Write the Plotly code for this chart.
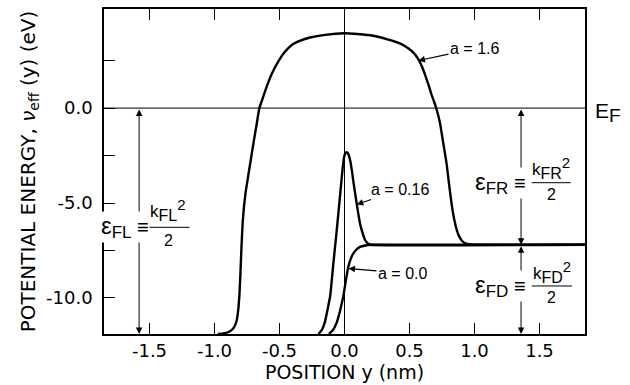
import plotly.graph_objects as go

# Effective potential v_eff(y) in eV versus position y in nm, for three values of a
y_a16 = [-0.975, -0.93, -0.88, -0.85, -0.83, -0.817, -0.808, -0.801, -0.793, -0.783,
         -0.772, -0.76, -0.739, -0.718, -0.698, -0.677, -0.655, -0.63, -0.60, -0.56,
         -0.51, -0.46, -0.41, -0.34, -0.265, -0.15, 0.0, 0.10, 0.22, 0.33, 0.43, 0.49,
         0.53, 0.565, 0.595, 0.62, 0.645, 0.67, 0.69, 0.71, 0.735, 0.76, 0.786, 0.805,
         0.825, 0.845, 0.865, 0.885, 0.905, 0.93, 0.97, 1.05, 1.85]
v_a16 = [-11.9, -11.87, -11.75, -11.55, -11.2, -10.6, -9.8, -8.8, -7.4, -6.0,
         -5.1, -4.4, -3.5, -2.6, -1.75, -0.9, 0.0, 0.5, 1.1, 1.8,
         2.45, 2.95, 3.3, 3.55, 3.72, 3.86, 3.94, 3.9, 3.81, 3.62, 3.4, 3.15,
         2.92, 2.6, 2.2, 1.75, 1.25, 0.7, 0.32, -0.1, -0.8, -1.85, -2.95, -4.05,
         -5.1, -5.9, -6.45, -6.8, -7.0, -7.12, -7.18, -7.2, -7.2]

y_a016 = [-0.20, -0.175, -0.15, -0.13, -0.11, -0.086, -0.065, -0.048, -0.03, -0.014,
          -0.005, 0.004, 0.013, 0.022, 0.031, 0.04, 0.05, 0.06, 0.07, 0.081, 0.094,
          0.107, 0.12, 0.14, 0.158, 0.18, 0.2, 1.85]
v_a016 = [-11.9, -11.7, -11.25, -10.6, -9.9, -8.2, -6.8, -5.6, -4.3, -3.15,
          -2.65, -2.42, -2.33, -2.34, -2.45, -2.65, -3.0, -3.45, -3.95, -4.45, -5.05,
          -5.6, -6.1, -6.6, -6.95, -7.13, -7.2, -7.2]

y_a0 = [-0.12, -0.09, -0.06, -0.035, -0.01, 0.01, 0.025, 0.04, 0.06, 0.085, 0.12, 0.16, 0.2, 1.85]
v_a0 = [-11.9, -11.7, -11.3, -10.7, -9.95, -9.1, -8.5, -8.1, -7.75, -7.5, -7.31, -7.24, -7.2, -7.2]

a_labels = ["a = 1.6", "a = 0.16", "a = 0.0"]

fermi_energy = 0.0
right_floor = -7.2
y_bottom, y_top = -11.9, 5.22
x_left, x_right = -1.85, 1.85

x_tickvals = [-1.5, -1.0, -0.5, 0.0, 0.5, 1.0, 1.5]
x_ticktext = ["-1.5", "-1.0", "-0.5", "0.0", "0.5", "1.0", "1.5"]
v_tickvals = [-10.0, -5.0, 0.0]
v_ticktext = ["-10.0", "-5.0", "0.0"]
v_minor_tickvals = [-7.5, -2.5, 2.5]

FONT = "Liberation Sans, Arial, sans-serif"
AXFONT = "DejaVu Sans, sans-serif"

fig = go.Figure()
for xs, vs in [(y_a16, v_a16), (y_a016, v_a016), (y_a0, v_a0)]:
    fig.add_trace(go.Scatter(x=xs, y=vs, mode="lines", showlegend=False,
                             line=dict(color="black", width=2.4, shape="spline", smoothing=0.3),
                             hoverinfo="skip"))

# Fermi level and the y = 0 interface
fig.add_hline(y=fermi_energy, line=dict(color="black", width=1))
fig.add_vline(x=0.0, line=dict(color="black", width=1))

# Curve labels with pointer arrows
pointers = [
    (0.568, 2.50, 1.0, 3.14),
    (0.094, -5.08, 0.427, -4.29),
    (0.03, -8.45, 0.446, -8.69),
]
for text, (hx, hy, tx, ty) in zip(a_labels, pointers):
    fig.add_annotation(x=hx, y=hy, ax=tx, ay=ty, axref="x", ayref="y", text=text,
                       showarrow=True, arrowhead=2, arrowsize=1.1, arrowwidth=1.2,
                       arrowcolor="black", standoff=0,
                       font=dict(family=FONT, size=16, color="black"))

# Double-headed energy arrows
x_left_arrow, x_right_arrow = -1.58, 1.358
for xa, v0, v1 in [(x_left_arrow, fermi_energy, y_bottom),
                   (x_right_arrow, fermi_energy, right_floor),
                   (x_right_arrow, right_floor, y_bottom)]:
    fig.add_annotation(x=xa, y=v1, ax=xa, ay=v0, axref="x", ayref="y", text="",
                       showarrow=True, arrowhead=2, startarrowhead=2, arrowside="end+start",
                       arrowsize=1.3, startarrowsize=1.3, arrowwidth=1, arrowcolor="black",
                       standoff=0, startstandoff=0)


def sized(s, px):
    return f'<span style="font-size:{px}px">{s}</span>'


def energy_label(name, x_eq, y_mid, x_frac, dy_num, dy_den, bar_half):
    fig.add_annotation(x=x_eq, y=y_mid, xanchor="right", yanchor="middle", showarrow=False,
                       text=sized("ε", 24) + "<sub>" + sized(name, 17) + "</sub>" + sized(" ≡", 20),
                       bgcolor="white", borderpad=0,
                       font=dict(family=FONT, size=17, color="black"))
    fig.add_annotation(x=x_frac, y=y_mid + dy_num, showarrow=False,
                       text="k<sub>" + sized(name, 16) + "</sub><sup>" + sized("2", 15) + "</sup>",
                       font=dict(family=FONT, size=17, color="black"))
    fig.add_annotation(x=x_frac, y=y_mid - dy_den, showarrow=False, text="2",
                       font=dict(family=FONT, size=16, color="black"))
    fig.add_shape(type="line", x0=x_frac - bar_half, x1=x_frac + bar_half,
                  y0=y_mid, y1=y_mid, line=dict(color="black", width=1))


energy_label("FL", -1.50, -6.28, -1.357, 0.9, 0.7, 0.165)
energy_label("FR", 1.405, -3.93, 1.59, 0.75, 0.6, 0.15)
energy_label("FD", 1.405, -9.37, 1.595, 0.75, 0.6, 0.155)

fig.add_annotation(xref="paper", x=1.0, y=fermi_energy, xanchor="left", yanchor="middle",
                   xshift=8, yshift=-4, showarrow=False,
                   text=sized("E", 21) + "<sub>" + sized("F", 19) + "</sub>",
                   font=dict(family=FONT, size=20, color="black"))

fig.update_layout(
    width=630, height=385,
    margin=dict(l=104, r=45, t=7, b=51),
    paper_bgcolor="white", plot_bgcolor="white",
    font=dict(family=AXFONT, size=18, color="black"),
    xaxis=dict(range=[x_left, x_right], tickvals=x_tickvals, ticktext=x_ticktext,
               ticks="inside", ticklen=11, tickwidth=1.2, tickcolor="black",
               showline=True, linecolor="black", linewidth=1.5, mirror="ticks",
               showgrid=False, zeroline=False, tickfont=dict(size=18),
               title=dict(text="POSITION y (nm)", standoff=2, font=dict(size=19))),
    yaxis=dict(range=[y_bottom, y_top], tickvals=v_tickvals, ticktext=v_ticktext,
               ticks="inside", ticklen=11, tickwidth=1.2, tickcolor="black",
               minor=dict(tickvals=v_minor_tickvals, ticks="inside", ticklen=11,
                          tickwidth=1.2, tickcolor="black", showgrid=False),
               showline=True, linecolor="black", linewidth=1.5, mirror=True,
               showgrid=False, zeroline=False, ticklabelstandoff=6, tickfont=dict(size=18),
               title=dict(text="POTENTIAL ENERGY, <i>ν</i><sub>eff</sub> (y) (eV)",
                          standoff=5, font=dict(size=20))),
)

fig.write_html("out.html")
